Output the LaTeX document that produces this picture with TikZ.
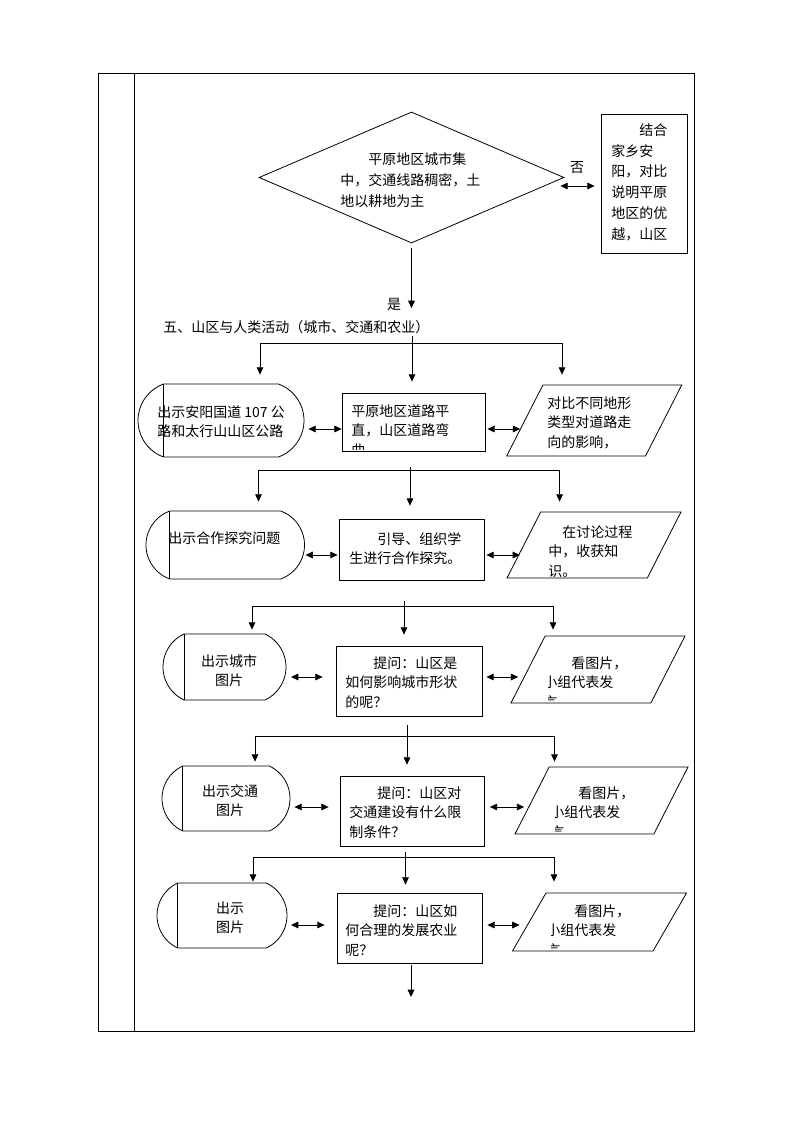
\documentclass[tikz,border=0pt]{standalone}
\usepackage{fontspec}
\setmainfont{Noto Sans CJK SC}
\usetikzlibrary{arrows.meta}
\usetikzlibrary{shapes.geometric}
\usetikzlibrary{shapes.misc}

\newcommand\boxfont{\fontsize{10.5pt}{14.7pt}\selectfont}
\newcommand\widefont{\fontsize{10.5pt}{15.7pt}\selectfont}
% body width and height of a data box
\newcommand\iosize[2]{\rule{0pt}{#2}\hspace*{#1}}

\tikzset{
  link/.style={line width=0.6pt},
  flow/.style={link, draw=black, inner sep=0pt},
  choice/.style={flow, diamond},
  stage/.style={flow, rounded rectangle, rounded rectangle arc length=#1},
  stage/.default=140,
  task/.style={flow, rectangle},
  io/.style={flow, trapezium, trapezium left angle=63, trapezium right angle=117},
  txt/.style={inner sep=0pt, align=left, font=\boxfont},
  arr/.style={link, -{Triangle[length=5.5pt,width=5pt]}},
  biarr/.style={link, {Triangle[length=5.5pt,width=5pt]}-{Triangle[length=5.5pt,width=5pt]}},
}

\begin{document}
\begin{tikzpicture}[x=0.75pt, y=-0.75pt]
  \useasboundingbox (0,0) rectangle (794,1123);

  % table cell
  \draw [link] (98,73) rectangle (694,1031);
  \draw [link] (134,73) -- (134,1031);

  % decision
  \node (dec)
    [choice, minimum width=228.75pt, minimum height=98.25pt]
    at (411.5,177.5) {};
  \node (dect)
    [txt, font=\widefont, anchor=north west]
    at (340,152)
    {\hspace*{2em}平原地区城市集\\中，交通线路稠密，土\\地以耕地为主};

  % comparison box
  \node (cmp)
    [task, minimum width=64.5pt, minimum height=104.25pt]
    at (644,183.5) {};
  \node (cmpt)
    [txt, font=\widefont, anchor=north west]
    at (611,123)
    {\hspace*{2em}结合\\家乡安\\阳，对比\\说明平原\\地区的优\\越，山区};

  \coordinate (h0) at (0,186);
  \draw [biarr, shorten <=-3pt, shorten >=4.5pt] (dec.east |- h0) -- (cmp.west |- h0);
  \node (no) [txt] at (577,168) {否};

  % section title
  \node (sec)
    [txt, anchor=west]
    at (163,327)
    {五、山区与人类活动（城市、交通和农业）};
  \draw [arr, shorten <=3.75pt, shorten >=9pt] (dec.south) -- (dec.south |- sec.north);
  \node (yes) [txt] at (394,304) {是};

  % row 1
  \node (st1)
    [stage, minimum width=124.5pt, minimum height=54.75pt]
    at (221,420.5) {};
  \draw [link] (st1.north west) -- (st1.south west);
  \node (st1t)
    [txt, anchor=north west]
    at (157,405)
    {出示安阳国道 107 公\\路和太行山山区公路};

  \node (b1)
    [task, minimum width=107.25pt, minimum height=43.5pt]
    at (413.5,422) {};
  \begin{scope}
    \clip (342,393) rectangle (485,449);
    \node (b1t)
      [txt, anchor=north west]
      at (351,404)
      {平原地区道路平\\直，山区道路弯\\曲};
  \end{scope}

  \node (p1)
    [io]
    at (594.2,420.5) {\iosize{77pt}{53.25pt}};
  \node (p1t)
    [txt, anchor=north west]
    at (547,396)
    {对比不同地形\\类型对道路走\\向的影响，};

  % row 2
  \node (st2)
    [stage, minimum width=118.9pt, minimum height=51pt]
    at (225.25,545) {};
  \draw [link] (st2.north west) -- (st2.south west);
  \node (st2t)
    [txt, anchor=north west]
    at (168,531)
    {出示合作探究问题};

  \node (b2)
    [task, minimum width=108.75pt, minimum height=45.75pt]
    at (411.5,549.5) {};
  \node (b2t)
    [txt, anchor=north west]
    at (349,532)
    {\hspace*{2em}引导、组织学\\生进行合作探究。};

  \node (p2)
    [io]
    at (594,545) {\iosize{80pt}{49.5pt}};
  \node (p2t)
    [txt, anchor=north west]
    at (548,525)
    {\hspace*{1em}在讨论过程\\中，收获知\\识。};

  % row 3
  \node (st3)
    [stage=130, minimum width=92.25pt, minimum height=49.5pt]
    at (224.5,667) {};
  \draw [link] (st3.north west) -- (st3.south west);
  \node (st3t)
    [txt, align=center, anchor=north]
    at (229,654)
    {出示城市\\图片};

  \node (b3)
    [task, minimum width=109.5pt, minimum height=52.5pt]
    at (409,681) {};
  \node (b3t)
    [txt, anchor=north west]
    at (345,656)
    {\hspace*{2em}提问：山区是\\如何影响城市形状\\的呢？};

  \node (p3)
    [io]
    at (598,669.5) {\iosize{79.3pt}{50.25pt}};
  \begin{scope}
    \clip (548,636) rectangle (685,700);
    \node (p3t)
      [txt, anchor=north west]
      at (543,656)
      {\hspace*{2em}看图片，\\小组代表发\\言};
  \end{scope}

  % row 4
  \node (st4)
    [stage=130, minimum width=96pt, minimum height=48.75pt]
    at (226,798.5) {};
  \draw [link] (st4.north west) -- (st4.south west);
  \node (st4t)
    [txt, align=center, anchor=north]
    at (230,784)
    {出示交通\\图片};

  \node (b4)
    [task, minimum width=108pt, minimum height=52.5pt]
    at (412,811) {};
  \node (b4t)
    [txt, anchor=north west]
    at (349,786)
    {\hspace*{2em}提问：山区对\\交通建设有什么限\\制条件？};

  \node (p4)
    [io]
    at (601.5,800.5) {\iosize{78.5pt}{50.25pt}};
  \begin{scope}
    \clip (555,767) rectangle (688,831);
    \node (p4t)
      [txt, anchor=north west]
      at (550,786)
      {\hspace*{2em}看图片，\\小组代表发\\言};
  \end{scope}

  % row 5
  \node (st5)
    [stage=130, minimum width=97.5pt, minimum height=48.75pt]
    at (222,915.5) {};
  \draw [link] (st5.north west) -- (st5.south west);
  \node (st5t)
    [txt, align=center, anchor=north]
    at (230,901)
    {出示\\图片};

  \node (b5)
    [task, minimum width=108.75pt, minimum height=52.5pt]
    at (409.5,928) {};
  \node (b5t)
    [txt, anchor=north west]
    at (345,904)
    {\hspace*{2em}提问：山区如\\何合理的发展农业\\呢？};

  \node (p5)
    [io, trapezium left angle=60, trapezium right angle=120]
    at (599.5,922) {\iosize{80.3pt}{43.5pt}};
  \begin{scope}
    \clip (551,893) rectangle (686.5,948);
    \node (p5t)
      [txt, anchor=north west]
      at (546,904)
      {\hspace*{2em}看图片，\\小组代表发\\言};
  \end{scope}

  % forks
  \coordinate (f1l) at (260,343);
  \coordinate (f1c) at (412,343);
  \coordinate (f1r) at (562,343);
  \draw [link] (f1l) -- (f1r);
  \draw [arr, shorten >=6.75pt] (f1l) -- (f1l |- st1.north);
  \draw [arr, shorten <=1.5pt, shorten >=8.25pt] (f1c |- sec.south) -- (f1c |- b1.north);
  \draw [arr, shorten >=7.5pt] (f1r) -- (f1r |- p1.north);

  \coordinate (f2l) at (258.5,470);
  \coordinate (f2c) at (410,470);
  \coordinate (f2r) at (559.6,470);
  \draw [link] (f2l) -- (f2r);
  \draw [arr, shorten >=6.75pt] (f2l) -- (f2l |- st2.north);
  \draw [arr, shorten <=12pt, shorten >=9.75pt] (f2c |- b1.south) -- (f2c |- b2.north);
  \draw [arr, shorten >=7.5pt] (f2r) -- (f2r |- p2.north);

  \coordinate (f3l) at (252,606);
  \coordinate (f3c) at (404,606);
  \coordinate (f3r) at (553,606);
  \draw [link] (f3l) -- (f3r);
  \draw [arr, shorten >=3pt] (f3l) -- (f3l |- st3.north);
  \draw [arr, shorten <=15.75pt, shorten >=8.25pt] (f3c |- b2.south) -- (f3c |- b3.north);
  \draw [arr, shorten >=4.5pt] (f3r) -- (f3r |- p3.north);

  \coordinate (f4l) at (255,736);
  \coordinate (f4c) at (407,736);
  \coordinate (f4r) at (554.5,736);
  \draw [link] (f4l) -- (f4r);
  \draw [arr, shorten >=3pt] (f4l) -- (f4l |- st4.north);
  \draw [arr, shorten <=6.75pt, shorten >=8.25pt] (f4c |- b3.south) -- (f4c |- b4.north);
  \draw [arr, shorten >=3.75pt] (f4r) -- (f4r |- p4.north);

  \coordinate (f5l) at (253,857);
  \coordinate (f5c) at (405.5,857);
  \coordinate (f5r) at (554,857);
  \draw [link] (f5l) -- (f5r);
  \draw [arr, shorten >=0.75pt] (f5l) -- (f5l |- st5.north);
  \draw [arr, shorten <=4.5pt, shorten >=6pt] (f5c |- b4.south) -- (f5c |- b5.north);
  \draw [arr, shorten >=8.25pt] (f5r) -- (f5r |- p5.north);

  \coordinate (fin) at (411,997);
  \draw [arr, shorten <=1.5pt] (b5.south -| fin) -- (fin);

  % side links
  \coordinate (h1) at (0,429);
  \draw [biarr, shorten <=3pt] (st1.east |- h1) -- (b1.west |- h1);
  \draw [biarr, shorten <=1.5pt, shorten >=3.15pt] (b1.east |- h1) -- (p1.west |- h1);

  \coordinate (h2) at (0,555);
  \draw [biarr, shorten <=0.4pt, shorten >=0.75pt] (st2.east |- h2) -- (b2.west |- h2);
  \draw [biarr, shorten <=1.5pt, shorten >=2.6pt] (b2.east |- h2) -- (p2.west |- h2);

  \coordinate (h3) at (0,677);
  \draw [biarr, shorten <=3.45pt, shorten >=9.75pt] (st3.east |- h3) -- (b3.west |- h3);
  \draw [biarr, shorten <=3pt, shorten >=7.1pt] (b3.east |- h3) -- (p3.west |- h3);

  \coordinate (h4) at (0,807);
  \draw [biarr, shorten <=3pt, shorten >=8.25pt] (st4.east |- h4) -- (b4.west |- h4);
  \draw [biarr, shorten <=4.1pt, shorten >=5.6pt] (b4.east |- h4) -- (p4.west |- h4);

  \coordinate (h5) at (0,925);
  \draw [biarr, shorten <=2.7pt, shorten >=9pt] (st5.east |- h5) -- (b5.west |- h5);
  \draw [biarr, shorten <=3.75pt, shorten >=6.9pt] (b5.east |- h5) -- (p5.west |- h5);
\end{tikzpicture}
\end{document}
